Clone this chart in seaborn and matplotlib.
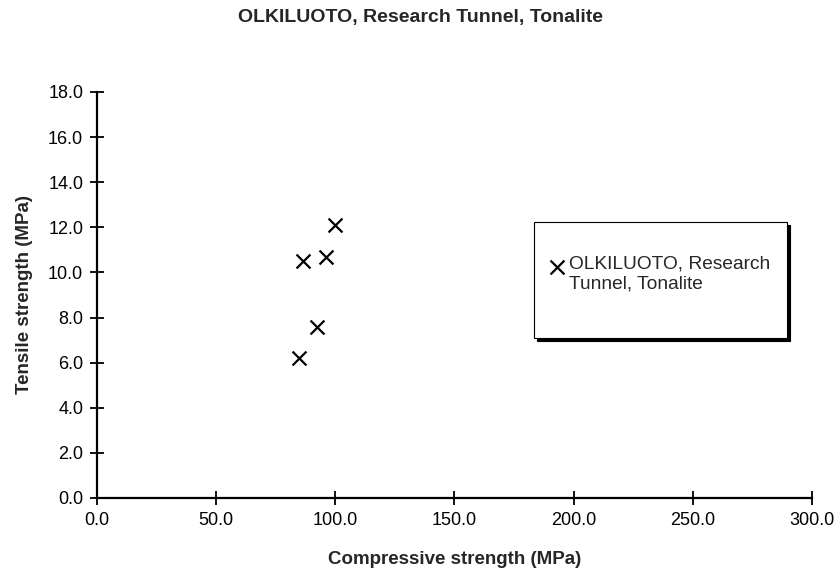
import pandas as pd
import matplotlib.pyplot as plt
import matplotlib.patches as mpatches
import seaborn as sns

# Data
compressive = [84.8, 92.3, 86.4, 96.1, 99.9]
tensile = [6.2, 7.6, 10.5, 10.7, 12.1]
series_name = "OLKILUOTO, Research Tunnel, Tonalite"
x_ticks = [0, 50, 100, 150, 200, 250, 300]
y_ticks = [0, 2, 4, 6, 8, 10, 12, 14, 16, 18]

df = pd.DataFrame({"compressive": compressive, "tensile": tensile})

sns.set_style("ticks")
plt.rcParams['font.family'] = ['Liberation Sans', 'DejaVu Sans']

fig = plt.figure(figsize=(8.4, 5.75), dpi=100)
ax = fig.add_axes([0.1155, 0.134, 0.851, 0.706])

sns.scatterplot(data=df, x="compressive", y="tensile", marker="x", color="black",
                s=100, linewidth=1.6, ax=ax, label="OLKILUOTO, Research\nTunnel, Tonalite")

ax.set_xlim(0, 300)
ax.set_ylim(0, 18)
ax.set_xticks(x_ticks)
ax.set_yticks(y_ticks)
ax.set_xticklabels([f"{v:.1f}" for v in x_ticks])
ax.set_yticklabels([f"{v:.1f}" for v in y_ticks])
ax.tick_params(direction="inout", length=10, width=1.3, labelsize=13, colors="black", pad=5)
sns.despine(ax=ax)
for sp in ["left", "bottom"]:
    ax.spines[sp].set_linewidth(1.6)
    ax.spines[sp].set_color("black")

ax.set_xlabel("Compressive strength (MPa)", fontsize=13.5, fontweight="bold", labelpad=16)
ax.set_ylabel("Tensile strength (MPa)", fontsize=13.5, fontweight="bold", labelpad=10.5)
fig.suptitle(series_name, fontsize=14, fontweight="bold", y=0.961, va="baseline")

# legend box with a hard black shadow, like the Excel original
box_x, box_y, box_w, box_h = 0.611, 0.394, 0.354, 0.286
shadow = mpatches.Rectangle((box_x + 0.0042, box_y - 0.0074), box_w, box_h,
                            transform=ax.transAxes, facecolor="black", edgecolor="black",
                            linewidth=0.8, zorder=3.9)
box = mpatches.Rectangle((box_x, box_y), box_w, box_h, transform=ax.transAxes,
                         facecolor="white", edgecolor="black", linewidth=0.8, zorder=4)
ax.add_patch(shadow)
ax.add_patch(box)

leg = ax.legend(loc="upper left", bbox_to_anchor=(0.631, 0.597), frameon=False,
                fontsize=13.8, handletextpad=0.2, borderpad=0, borderaxespad=0,
                handlelength=0.9, handleheight=2.4)
leg.set_zorder(5)

plt.savefig("out.png", dpi=100)
